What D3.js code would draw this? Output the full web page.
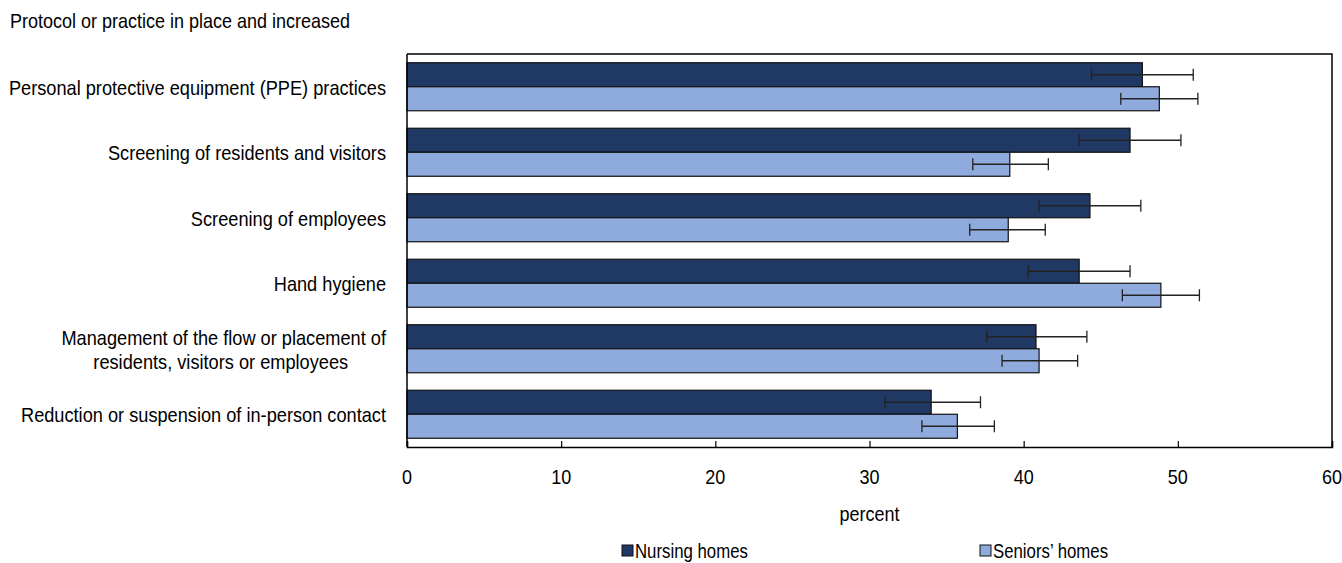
<!DOCTYPE html>
<html>
<head>
<meta charset="utf-8">
<script src="https://cdn.jsdelivr.net/npm/d3@7"></script>
<style>
  html, body { margin: 0; padding: 0; background: #fff; }
  svg { display: block; }
  text { font-family: "Liberation Sans", Arial, sans-serif; fill: #000; }
</style>
</head>
<body>
<svg id="chart" width="1342" height="563"></svg>
<script>
// Protocols or practices in place and increased, by type of residence
const categories = [
  ["Personal protective equipment (PPE) practices"],
  ["Screening of residents and visitors"],
  ["Screening of employees"],
  ["Hand hygiene"],
  ["Management of the flow or placement of", "residents, visitors or employees"],
  ["Reduction or suspension of in-person contact"]
];
const seriesNames = ["Nursing homes", "Seniors\u2019 homes"];
const nursingValues = [47.7, 46.9, 44.3, 43.6, 40.8, 34.0];
const nursingLow    = [44.4, 43.6, 41.0, 40.3, 37.6, 31.0];
const nursingHigh   = [51.0, 50.2, 47.6, 46.9, 44.1, 37.2];
const seniorsValues = [48.8, 39.1, 39.0, 48.9, 41.0, 35.7];
const seniorsLow    = [46.3, 36.7, 36.5, 46.4, 38.6, 33.4];
const seniorsHigh   = [51.3, 41.6, 41.4, 51.4, 43.5, 38.1];
const xTicks = [0, 10, 20, 30, 40, 50, 60];
const colors = ["#203864", "#8FAADC"];

const svg = d3.select("#chart");
const plot = { left: 407, right: 1332, top: 54, bottom: 447 };
const FONT = 20, SQUEEZE = 0.9;   // condensed look: horizontally squeezed text

// Place a horizontally condensed text at (px, py)
function label(parent, px, py, str, anchor = "start", squeeze = SQUEEZE) {
  return parent.append("text")
    .attr("transform", `translate(${px},${py}) scale(${squeeze},1)`)
    .attr("font-size", FONT).attr("text-anchor", anchor).text(str);
}

const x = d3.scaleLinear().domain([0, 60]).range([plot.left, plot.right]);
const y = d3.scaleBand().domain(d3.range(categories.length)).range([plot.top, plot.bottom])
  .paddingInner(0.267).paddingOuter(0.1335);
const barH = y.bandwidth() / 2;

const series = [
  { vals: nursingValues, lo: nursingLow, hi: nursingHigh },
  { vals: seniorsValues, lo: seniorsLow, hi: seniorsHigh }
];

// Title
label(svg, 10, 28, "Protocol or practice in place and increased");

// Frame (top and right edges)
svg.append("path")
  .attr("d", `M${plot.left},${plot.top}H${plot.right}V${plot.bottom}`)
  .attr("fill", "none").attr("stroke", "#000").attr("stroke-width", 1.5);

// Bars
series.forEach((s, si) => {
  svg.append("g").selectAll("rect").data(s.vals).join("rect")
    .attr("x", x(0))
    .attr("y", (d, i) => y(i) + si * barH)
    .attr("width", d => x(d) - x(0))
    .attr("height", barH)
    .attr("fill", colors[si])
    .attr("stroke", "#111").attr("stroke-width", 1.2);
});

// Error bars
series.forEach((s, si) => {
  const g = svg.append("g").attr("stroke", "#222").attr("stroke-width", 1.3).attr("fill", "none");
  s.vals.forEach((v, i) => {
    const cy = y(i) + si * barH + barH / 2;
    g.append("line").attr("x1", x(s.lo[i])).attr("x2", x(s.hi[i])).attr("y1", cy).attr("y2", cy);
    g.append("line").attr("x1", x(s.lo[i])).attr("x2", x(s.lo[i])).attr("y1", cy - 6).attr("y2", cy + 6);
    g.append("line").attr("x1", x(s.hi[i])).attr("x2", x(s.hi[i])).attr("y1", cy - 6).attr("y2", cy + 6);
  });
});

// X axis with inward ticks
const xAxis = svg.append("g").attr("transform", `translate(0,${plot.bottom})`)
  .call(d3.axisTop(x).tickValues(xTicks).tickSize(6).tickFormat(""));
xAxis.select(".domain").attr("stroke", "#000").attr("stroke-width", 1.5);
xAxis.selectAll(".tick line").attr("stroke", "#000").attr("stroke-width", 1.2);
const tickLabels = svg.append("g");
xTicks.forEach(d => label(tickLabels, x(d), 484, d, "middle"));

// Left axis line
svg.append("line").attr("x1", plot.left).attr("x2", plot.left).attr("y1", plot.top).attr("y2", plot.bottom)
  .attr("stroke", "#000").attr("stroke-width", 1.5);

// Category labels (right-aligned; wrapped lines centred under the widest line)
const labelRight = 386;
categories.forEach((lines, i) => {
  const cy = y(i) + y.bandwidth() / 2;
  const n = lines.length;
  const nodes = lines.map((ln, k) =>
    label(svg, labelRight, cy + 8 + (k - (n - 1) / 2) * 24, ln, "end", 0.91));
  if (n > 1) {
    const widths = nodes.map(t => t.node().getComputedTextLength() * 0.91);
    const wMax = d3.max(widths);
    nodes.forEach((t, k) => {
      const py = cy + 8 + (k - (n - 1) / 2) * 24;
      t.attr("transform", `translate(${labelRight - (wMax - widths[k]) / 2 - 3 * (k > 0)},${py}) scale(0.91,1)`);
    });
  }
});

// Axis title
label(svg, (plot.left + plot.right) / 2, 521, "percent", "middle");

// Legend
const legendX = [622, 980];
seriesNames.forEach((name, i) => {
  svg.append("rect").attr("x", legendX[i]).attr("y", 545).attr("width", 11).attr("height", 11)
    .attr("fill", colors[i]).attr("stroke", "#111").attr("stroke-width", 1);
  label(svg, legendX[i] + 13, 558, name, "start", 0.84);
});
</script>
</body>
</html>
